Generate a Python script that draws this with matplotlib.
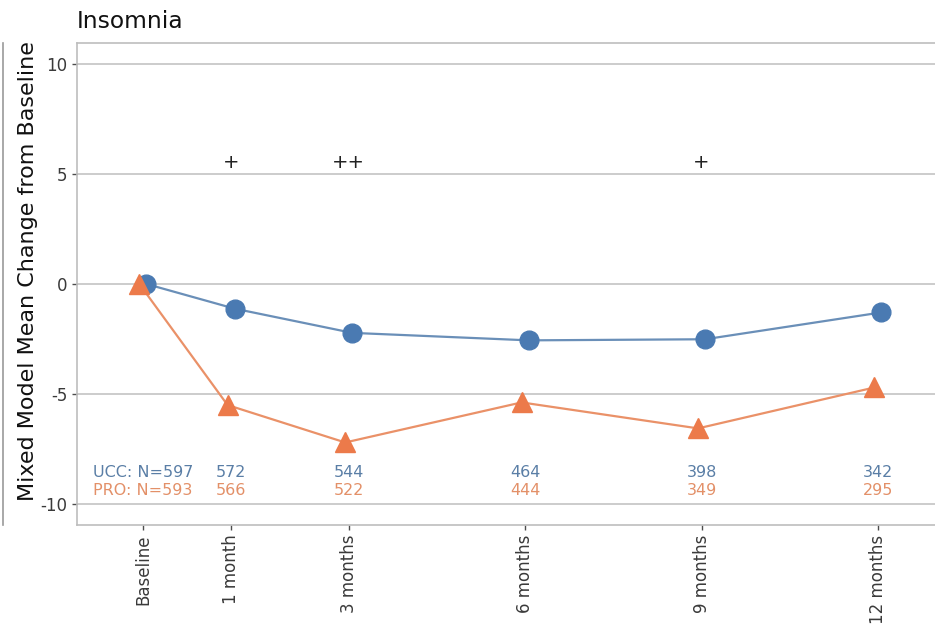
import matplotlib
matplotlib.use("Agg")
import matplotlib.pyplot as plt
from matplotlib.lines import Line2D

# Visit schedule (months; baseline drawn half a month before month 0)
visit_labels = ["Baseline", "1 month", "3 months", "6 months", "9 months", "12 months"]
visit_pos = [-0.5, 1, 3, 6, 9, 12]

# Mixed model mean change from baseline
ucc_mean = [0.0, -1.12, -2.22, -2.56, -2.51, -1.29]
pro_mean = [0.0, -5.5, -7.2, -5.38, -6.56, -4.7]

# Numbers at risk
ucc_n = [597, 572, 544, 464, 398, 342]
pro_n = [593, 566, 522, 444, 349, 295]

# Significance markers
sig_pos = [1, 3, 9]
sig_text = ["+", "++", "+"]

blue_mark = "#4a7ab2"
blue_line = "#6a8fb8"
blue_text = "#5a7ea6"
orange_mark = "#ec7a4a"
orange_line = "#ea9168"
orange_text = "#e39068"
grid_col = "#cccccc"
tick_col = "#4d4d4d"

fig = plt.figure(figsize=(9.35, 6.28), dpi=100)
ax = fig.add_axes([0.0824, 0.164, 0.922, 0.7675])

dodge = 0.06
ax.plot([p + dodge for p in visit_pos], ucc_mean, color=blue_line, lw=1.6, zorder=3)
ax.plot([p + dodge for p in visit_pos], ucc_mean, "o", color=blue_mark, ms=13.5, zorder=4)
ax.plot([p - dodge for p in visit_pos], pro_mean, color=orange_line, lw=1.6, zorder=3)
ax.plot([p - dodge for p in visit_pos], pro_mean, "^", color=orange_mark, ms=15, zorder=4)

for p, n1, n2 in zip(visit_pos, ucc_n, pro_n):
    t1 = f"UCC: N={n1}" if p == visit_pos[0] else str(n1)
    t2 = f"PRO: N={n2}" if p == visit_pos[0] else str(n2)
    ax.text(p, -8.58, t1, color=blue_text, fontsize=11.5, ha="center", va="center")
    ax.text(p, -9.4, t2, color=orange_text, fontsize=11.5, ha="center", va="center")

for p, s in zip(sig_pos, sig_text):
    ax.text(p, 5.5, s, color="#222222", fontsize=14, ha="center", va="center")

ax.set_xlim(-1.62, 13.04)
ax.set_ylim(-10.95, 10.95)
ax.set_yticks([-10, -5, 0, 5, 10])
ax.set_yticklabels(["-10", "-5", "0", "5", "10"])
ax.set_xticks(visit_pos)
ax.set_xticklabels(visit_labels, rotation=90)
ax.tick_params(axis="both", colors=tick_col, labelsize=12, length=3.5, width=1.0)
ax.tick_params(axis="both", labelcolor="#3a3a3a")
ax.yaxis.grid(True, color=grid_col, lw=1.4)
ax.xaxis.grid(False)
ax.set_axisbelow(True)
for sp in ax.spines.values():
    sp.set_color("#bdbdbd")
    sp.set_linewidth(1.2)

ax.set_ylabel("Mixed Model Mean Change from Baseline", fontsize=16, color="#111111")
ax.yaxis.set_label_coords(-0.045, 0.527)
fig.text(0.082, 0.965, "Insomnia", fontsize=16.8, color="#111111", ha="left", va="center")

# edge of the neighbouring panel
fig.add_artist(Line2D([0.003, 0.003], [0.164, 0.932], color="#9a9a9a", lw=1.2))

fig.savefig("out.png", dpi=100)
